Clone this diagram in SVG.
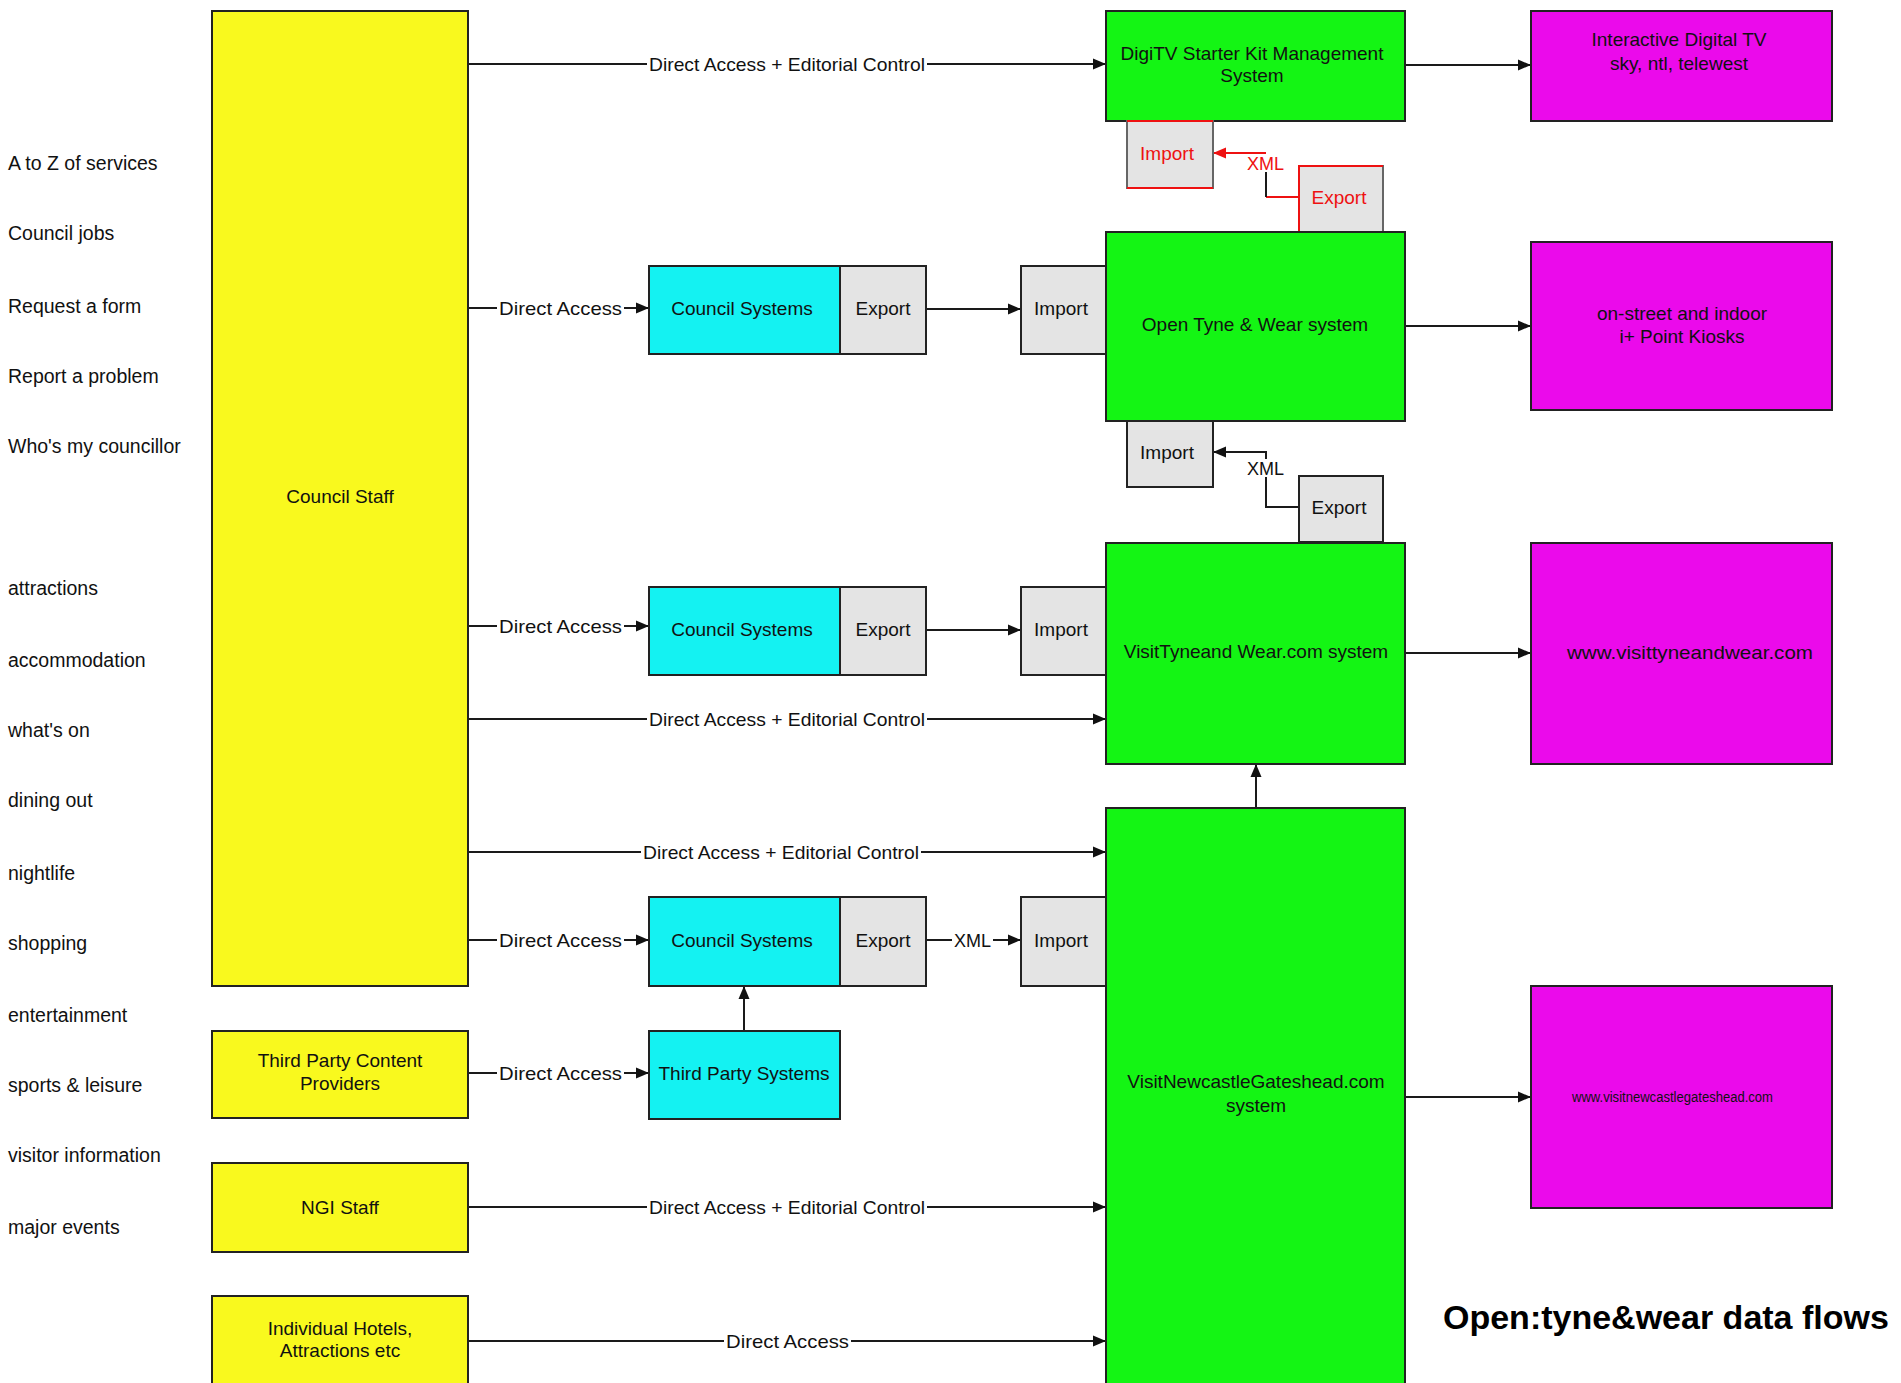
<svg xmlns="http://www.w3.org/2000/svg" width="1901" height="1383" viewBox="0 0 1901 1383">
<style>
text{font-family:"Liberation Sans",Arial,sans-serif;font-size:19px;fill:#111}
.c{text-anchor:middle}
.box{stroke:#222;stroke-width:2}
.y{fill:#F9F91E}.g{fill:#14F514}.cy{fill:#14F2F2}.m{fill:#EB0AEB}.gr{fill:#E4E4E4}
.ln{stroke:#1a1a1a;stroke-width:2;fill:none}
.red{stroke:#EE1111}
.rt{fill:#EE1111}
.bg{fill:#fff}
.title{font-weight:bold;font-size:34px;fill:#000}
.lbl{font-size:19.5px}
</style>
<defs>
<marker id="ah" markerUnits="userSpaceOnUse" markerWidth="14" markerHeight="12" refX="13" refY="6" orient="auto">
<path d="M0,0.5 L13,6 L0,11.5 Z" fill="#111"/>
</marker>
<marker id="ahr" markerUnits="userSpaceOnUse" markerWidth="14" markerHeight="12" refX="13" refY="6" orient="auto">
<path d="M0,0.5 L13,6 L0,11.5 Z" fill="#EE1111"/>
</marker>
</defs>
<rect width="1901" height="1383" fill="#fff"/>

<g id="left-labels">
<text class="lbl" x="8" y="170">A to Z of services</text>
<text class="lbl" x="8" y="240">Council jobs</text>
<text class="lbl" x="8" y="313">Request a form</text>
<text class="lbl" x="8" y="383">Report a problem</text>
<text class="lbl" x="8" y="453">Who's my councillor</text>
<text class="lbl" x="8" y="595">attractions</text>
<text class="lbl" x="8" y="667">accommodation</text>
<text class="lbl" x="8" y="737">what's on</text>
<text class="lbl" x="8" y="807">dining out</text>
<text class="lbl" x="8" y="880">nightlife</text>
<text class="lbl" x="8" y="950">shopping</text>
<text class="lbl" x="8" y="1022">entertainment</text>
<text class="lbl" x="8" y="1092">sports &amp; leisure</text>
<text class="lbl" x="8" y="1162">visitor information</text>
<text class="lbl" x="8" y="1234">major events</text>
</g>

<g id="connectors">
<line class="ln" x1="468" y1="64" x2="1106" y2="64" marker-end="url(#ah)"/>
<line class="ln" x1="468" y1="308" x2="649" y2="308" marker-end="url(#ah)"/>
<line class="ln" x1="926" y1="309" x2="1021" y2="309" marker-end="url(#ah)"/>
<line class="ln" x1="1405" y1="65" x2="1531" y2="65" marker-end="url(#ah)"/>
<line class="ln" x1="1405" y1="326" x2="1531" y2="326" marker-end="url(#ah)"/>
<polyline class="ln red" points="1299,197 1266,197"/>
<polyline class="ln" points="1266,197 1266,168"/>
<polyline class="ln red" points="1266,153 1213,153" marker-end="url(#ahr)"/>
<polyline class="ln" points="1299,507 1266,507 1266,452 1213,452" marker-end="url(#ah)"/>
<line class="ln" x1="466" y1="626" x2="649" y2="626" marker-end="url(#ah)"/>
<line class="ln" x1="926" y1="630" x2="1021" y2="630" marker-end="url(#ah)"/>
<line class="ln" x1="468" y1="719" x2="1106" y2="719" marker-end="url(#ah)"/>
<line class="ln" x1="1405" y1="653" x2="1531" y2="653" marker-end="url(#ah)"/>
<line class="ln" x1="1256" y1="808" x2="1256" y2="764" marker-end="url(#ah)"/>
<line class="ln" x1="468" y1="852" x2="1106" y2="852" marker-end="url(#ah)"/>
<line class="ln" x1="468" y1="940" x2="649" y2="940" marker-end="url(#ah)"/>
<line class="ln" x1="926" y1="940" x2="1021" y2="940" marker-end="url(#ah)"/>
<line class="ln" x1="744" y1="1031" x2="744" y2="986" marker-end="url(#ah)"/>
<line class="ln" x1="468" y1="1073" x2="649" y2="1073" marker-end="url(#ah)"/>
<line class="ln" x1="468" y1="1207" x2="1106" y2="1207" marker-end="url(#ah)"/>
<line class="ln" x1="468" y1="1341" x2="1106" y2="1341" marker-end="url(#ah)"/>
<line class="ln" x1="1405" y1="1097" x2="1531" y2="1097" marker-end="url(#ah)"/>

<rect class="bg" x="647" y="54" width="280" height="20"/>
<text x="649" y="71" textLength="276" lengthAdjust="spacingAndGlyphs">Direct Access + Editorial Control</text>
<rect class="bg" x="497" y="298" width="127" height="20"/>
<text x="499" y="315" textLength="123" lengthAdjust="spacingAndGlyphs">Direct Access</text>
<rect class="bg" x="497" y="616" width="127" height="20"/>
<text x="499" y="633" textLength="123" lengthAdjust="spacingAndGlyphs">Direct Access</text>
<rect class="bg" x="647" y="709" width="280" height="20"/>
<text x="649" y="726" textLength="276" lengthAdjust="spacingAndGlyphs">Direct Access + Editorial Control</text>
<rect class="bg" x="641" y="842" width="280" height="20"/>
<text x="643" y="859" textLength="276" lengthAdjust="spacingAndGlyphs">Direct Access + Editorial Control</text>
<rect class="bg" x="497" y="930" width="127" height="20"/>
<text x="499" y="947" textLength="123" lengthAdjust="spacingAndGlyphs">Direct Access</text>
<rect class="bg" x="952" y="930" width="41" height="20"/>
<text x="954" y="947" textLength="37" lengthAdjust="spacingAndGlyphs">XML</text>
<rect class="bg" x="497" y="1063" width="127" height="20"/>
<text x="499" y="1080" textLength="123" lengthAdjust="spacingAndGlyphs">Direct Access</text>
<rect class="bg" x="647" y="1197" width="280" height="20"/>
<text x="649" y="1214" textLength="276" lengthAdjust="spacingAndGlyphs">Direct Access + Editorial Control</text>
<rect class="bg" x="724" y="1331" width="127" height="20"/>
<text x="726" y="1348" textLength="123" lengthAdjust="spacingAndGlyphs">Direct Access</text>
<rect class="bg" x="1245" y="156" width="41" height="16"/>
<text class="rt" x="1247" y="170" textLength="37" lengthAdjust="spacingAndGlyphs">XML</text>
<rect class="bg" x="1245" y="459" width="41" height="18"/>
<text x="1247" y="475" textLength="37" lengthAdjust="spacingAndGlyphs">XML</text>
</g>

<g id="council-staff"><rect class="box y" x="212" y="11" width="256" height="975"/><text class="c" x="340" y="503">Council Staff</text></g>
<g id="third-party-content"><rect class="box y" x="212" y="1031" width="256" height="87"/><text class="c" x="340" y="1067">Third Party Content</text><text class="c" x="340" y="1090">Providers</text></g>
<g id="ngi-staff"><rect class="box y" x="212" y="1163" width="256" height="89"/><text class="c" x="340" y="1214">NGI Staff</text></g>
<g id="hotels"><rect class="box y" x="212" y="1296" width="256" height="100"/><text class="c" x="340" y="1335">Individual Hotels,</text><text class="c" x="340" y="1357">Attractions etc</text></g>

<g id="council-systems-1"><rect class="box cy" x="649" y="266" width="191" height="88"/><text class="c" x="742" y="315">Council Systems</text></g>
<g id="export-1"><rect class="box gr" x="840" y="266" width="86" height="88"/><text class="c" x="883" y="315">Export</text></g>
<g id="import-1"><rect class="box gr" x="1021" y="266" width="85" height="88"/><text class="c" x="1061" y="315">Import</text></g>

<g id="council-systems-2"><rect class="box cy" x="649" y="587" width="191" height="88"/><text class="c" x="742" y="636">Council Systems</text></g>
<g id="export-2"><rect class="box gr" x="840" y="587" width="86" height="88"/><text class="c" x="883" y="636">Export</text></g>
<g id="import-2"><rect class="box gr" x="1021" y="587" width="85" height="88"/><text class="c" x="1061" y="636">Import</text></g>

<g id="council-systems-3"><rect class="box cy" x="649" y="897" width="191" height="89"/><text class="c" x="742" y="947">Council Systems</text></g>
<g id="export-3"><rect class="box gr" x="840" y="897" width="86" height="89"/><text class="c" x="883" y="947">Export</text></g>
<g id="import-3"><rect class="box gr" x="1021" y="897" width="85" height="89"/><text class="c" x="1061" y="947">Import</text></g>

<g id="third-party-systems"><rect class="box cy" x="649" y="1031" width="191" height="88"/><text class="c" x="744" y="1080">Third Party Systems</text></g>

<g id="digitv"><rect class="box g" x="1106" y="11" width="299" height="110"/><text class="c" x="1252" y="60">DigiTV Starter Kit Management</text><text class="c" x="1252" y="82">System</text></g>
<g id="import-red"><rect class="gr" x="1127" y="121" width="86" height="67" stroke="#666" stroke-width="2"/><line x1="1127" y1="121" x2="1213" y2="121" stroke="#EE1111" stroke-width="2"/><line x1="1127" y1="188" x2="1213" y2="188" stroke="#EE1111" stroke-width="2"/><text class="c rt" x="1167" y="160">Import</text></g>
<g id="export-red"><rect class="gr" x="1299" y="166" width="84" height="66" stroke="#666" stroke-width="2"/><polyline points="1383,166 1299,166 1299,232 1383,232" fill="none" stroke="#EE1111" stroke-width="2"/><text class="c rt" x="1339" y="204">Export</text></g>

<g id="open-tyne-wear"><rect class="box g" x="1106" y="232" width="299" height="189"/><text class="c" x="1255" y="331">Open Tyne &amp; Wear system</text></g>
<g id="import-4"><rect class="box gr" x="1127" y="421" width="86" height="66"/><text class="c" x="1167" y="459">Import</text></g>
<g id="export-4"><rect class="box gr" x="1299" y="476" width="84" height="66"/><text class="c" x="1339" y="514">Export</text></g>
<g id="visittyneandwear"><rect class="box g" x="1106" y="543" width="299" height="221"/><text class="c" x="1256" y="658">VisitTyneand Wear.com system</text></g>
<g id="visitnewcastle"><rect class="box g" x="1106" y="808" width="299" height="590"/><text class="c" x="1256" y="1088">VisitNewcastleGateshead.com</text><text class="c" x="1256" y="1112">system</text></g>

<g id="magenta-digitv"><rect class="box m" x="1531" y="11" width="301" height="110"/><text class="c" x="1679" y="46">Interactive Digital TV</text><text class="c" x="1679" y="70">sky, ntl, telewest</text></g>
<g id="magenta-kiosks"><rect class="box m" x="1531" y="242" width="301" height="168"/><text class="c" x="1682" y="320">on-street and indoor</text><text class="c" x="1682" y="343">i+ Point Kiosks</text></g>
<g id="magenta-visittyne"><rect class="box m" x="1531" y="543" width="301" height="221"/><text x="1567" y="659" textLength="246" lengthAdjust="spacingAndGlyphs">www.visittyneandwear.com</text></g>
<g id="magenta-visitnewcastle"><rect class="box m" x="1531" y="986" width="301" height="222"/><text x="1572" y="1102" style="font-size:14px" textLength="201" lengthAdjust="spacingAndGlyphs">www.visitnewcastlegateshead.com</text></g>

<text class="title" x="1443" y="1329">Open:tyne&amp;wear data flows</text>
</svg>
